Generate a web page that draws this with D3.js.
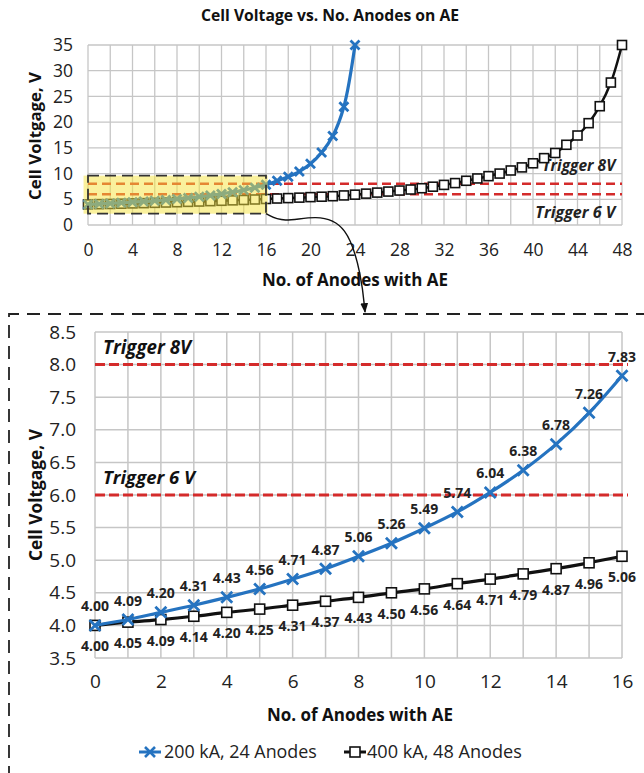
<!DOCTYPE html>
<html><head><meta charset="utf-8">
<script src="https://cdn.jsdelivr.net/npm/d3@7"></script>
<style>
html,body{margin:0;padding:0;background:#fff;}
svg{display:block;font-family:"Open Sans","Noto Sans",sans-serif;}
</style></head>
<body><svg id="c" width="644" height="773"></svg>
<script>
// ---------- data ----------
const anodesTop = d3.range(0, 49);            // 0..48
const anodesBottom = d3.range(0, 17);         // 0..16
const series200kA = [4.00,4.09,4.20,4.31,4.43,4.56,4.71,4.87,5.06,5.26,5.49,5.74,6.04,6.38,6.78,7.26,7.83,
                     8.6,9.4,10.4,11.9,14.1,17.3,23.0,35.0];
const series400kA = [4.00,4.05,4.09,4.14,4.20,4.25,4.31,4.37,4.43,4.50,4.56,4.64,4.71,4.79,4.87,4.96,5.06,
                     5.15,5.23,5.32,5.42,5.5,5.6,5.75,5.9,6.1,6.3,6.5,6.7,6.9,7.15,7.45,7.8,8.15,8.6,9.05,
                     9.5,10.0,10.6,11.2,12.0,13.0,14.0,15.6,17.4,19.8,23.1,27.7,35.0];
const triggers = [8, 6];
const triggerLabels = ["Trigger 8V", "Trigger 6 V"];
const topXTicks = d3.range(0, 49, 4);
const topYTicks = d3.range(0, 36, 5);
const botXTicks = d3.range(0, 17, 2);
const botYTicks = d3.range(3.5, 8.51, 0.5);
const seriesNames = ["200 kA, 24 Anodes", "400 kA, 48 Anodes"];
const titleTop = "Cell Voltage vs. No. Anodes on AE";
const xTitle = "No. of Anodes with AE";
const yTitle = "Cell Voltgage, V";

const BLUE = "#2573c0", RED = "#d42b2b", GRID = "#c6c6c6";
const svg = d3.select("#c");

const d200 = series200kA.map((v,i)=>({x:i,y:v}));
const d400 = series400kA.map((v,i)=>({x:i,y:v}));

function crossPath(s){ return `M${-s},${-s}L${s},${s}M${-s},${s}L${s},${-s}`; }
// scale a text's font so that it spans the wanted width
function fit(sel, w){
  const n = sel.node(); const fs = parseFloat(sel.attr("font-size"));
  const len = n.getComputedTextLength();
  if (len > 0) sel.attr("font-size", (fs * w / len).toFixed(2));
  return sel;
}

// ================= TOP CHART =================
const xT = d3.scaleLinear([0,48],[88,622]);
const yT = d3.scaleLinear([0,35],[225,45]);
const gT = svg.append("g");

// grid
gT.append("g").selectAll("line").data(d3.range(0,49,2)).join("line")
  .attr("x1",d=>xT(d)).attr("x2",d=>xT(d)).attr("y1",yT(0)).attr("y2",yT(35))
  .attr("stroke",GRID).attr("stroke-width",1.3);
gT.append("g").selectAll("line").data(topYTicks).join("line")
  .attr("y1",d=>yT(d)).attr("y2",d=>yT(d)).attr("x1",xT(0)).attr("x2",xT(48))
  .attr("stroke",GRID).attr("stroke-width",1.3);

// axes
const axT = gT.append("g").attr("transform",`translate(0,${yT(0)})`)
  .call(d3.axisBottom(xT).tickValues(topXTicks).tickSize(0).tickPadding(19));
axT.select(".domain").remove();
axT.selectAll("text").attr("font-size",17.5).attr("fill","#222").attr("font-family","Open Sans");
const ayT = gT.append("g").attr("transform",`translate(${xT(0)},0)`)
  .call(d3.axisLeft(yT).tickValues(topYTicks).tickSize(0).tickPadding(15));
ayT.select(".domain").remove();
ayT.selectAll("text").attr("font-size",17.5).attr("fill","#222").attr("font-family","Open Sans");

// triggers
gT.append("g").selectAll("line").data(triggers).join("line")
  .attr("x1",xT(0)).attr("x2",xT(48)).attr("y1",d=>yT(d)).attr("y2",d=>yT(d))
  .attr("stroke",RED).attr("stroke-width",2.5).attr("stroke-dasharray","9,5");
fit(gT.append("text").attr("x",xT(47.4)).attr("y",yT(8)-13).attr("text-anchor","end")
  .attr("font-size",15).attr("font-weight","bold").attr("font-style","italic").attr("fill","#222")
  .text(triggerLabels[0]), 73);
fit(gT.append("text").attr("x",xT(47.4)).attr("y",yT(6)+24).attr("text-anchor","end")
  .attr("font-size",15).attr("font-weight","bold").attr("font-style","italic").attr("fill","#222")
  .text(triggerLabels[1]), 80);

// series
const lineT = d3.line().x(d=>xT(d.x)).y(d=>yT(d.y)).curve(d3.curveCatmullRom);
gT.append("path").datum(d400).attr("d",lineT).attr("fill","none").attr("stroke","#111").attr("stroke-width",2.5);
gT.append("g").selectAll("rect").data(d400).join("rect")
  .attr("x",d=>xT(d.x)-4.5).attr("y",d=>yT(d.y)-4.5).attr("width",9).attr("height",9)
  .attr("fill","#fff").attr("stroke","#111").attr("stroke-width",1.6);
gT.append("path").datum(d200).attr("d",lineT).attr("fill","none").attr("stroke",BLUE).attr("stroke-width",3.2);
gT.append("g").selectAll("path").data(d200).join("path")
  .attr("transform",d=>`translate(${xT(d.x)},${yT(d.y)})`).attr("d",crossPath(4.5))
  .attr("stroke",BLUE).attr("stroke-width",2.8).attr("fill","none");

// highlight box (0..16, region zoomed below)
gT.append("rect").attr("x",xT(-0.4)).attr("y",yT(9.6)).attr("width",xT(16.15)-xT(-0.4)).attr("height",yT(2.2)-yT(9.6))
  .attr("fill","#f5e43c").attr("opacity",0.5);
gT.append("rect").attr("x",xT(0)).attr("y",yT(9.6)).attr("width",xT(16)-xT(0)).attr("height",yT(2.2)-yT(9.6))
  .attr("fill","none").attr("stroke","#333").attr("stroke-width",1.8).attr("stroke-dasharray","11,6");

// titles
fit(svg.append("text").attr("x",330).attr("y",21).attr("text-anchor","middle")
  .attr("font-size",13).attr("font-weight","bold").attr("fill","#111").text(titleTop), 258);
fit(svg.append("text").attr("x",355).attr("y",286).attr("text-anchor","middle")
  .attr("font-size",16).attr("font-weight","bold").attr("fill","#111").text(xTitle), 186);
fit(svg.append("text").attr("transform","translate(41,136) rotate(-90)").attr("text-anchor","middle")
  .attr("font-size",15).attr("font-weight","bold").attr("fill","#111").text(yTitle), 128);

// ================= BOTTOM CHART =================
const xB = d3.scaleLinear([0,16],[95,622]);
const yB = d3.scaleLinear([3.5,8.5],[658,332]);
const gB = svg.append("g");

// dashed frame
gB.append("path").attr("d",`M9,800V314H660`).attr("fill","none").attr("stroke","#222")
  .attr("stroke-width",1.8).attr("stroke-dasharray","13,8");

// connector arrow from top box
svg.append("defs").append("marker").attr("id","ah").attr("viewBox","0 0 10 10").attr("refX",9).attr("refY",5)
  .attr("markerWidth",7).attr("markerHeight",7).attr("orient","auto")
  .append("path").attr("d","M0,1L10,5L0,9z").attr("fill","#111");
const arrowPts = [[xT(16),yT(2.2)],[xT(17.5),yT(0.4)],[xT(20.5),yT(2.0)],[xT(23.3),yT(0.2)],[xT(24.6),yT(-10)],[xT(24.9),312]];
svg.append("path").attr("d",d3.line().curve(d3.curveBasis)(arrowPts)).attr("fill","none")
  .attr("stroke","#111").attr("stroke-width",1.4).attr("marker-end","url(#ah)");

// grid
gB.append("g").selectAll("line").data(anodesBottom).join("line")
  .attr("x1",d=>xB(d)).attr("x2",d=>xB(d)).attr("y1",yB(3.5)).attr("y2",yB(8.5))
  .attr("stroke",GRID).attr("stroke-width",1.5);
gB.append("g").selectAll("line").data(botYTicks).join("line")
  .attr("y1",d=>yB(d)).attr("y2",d=>yB(d)).attr("x1",xB(0)).attr("x2",xB(16))
  .attr("stroke",GRID).attr("stroke-width",1.5);

const axB = gB.append("g").attr("transform",`translate(0,${yB(3.5)})`)
  .call(d3.axisBottom(xB).tickValues(botXTicks).tickSize(0).tickPadding(17));
axB.select(".domain").remove();
axB.selectAll("text").attr("font-size",19).attr("fill","#222").attr("font-family","Open Sans");
const ayB = gB.append("g").attr("transform",`translate(${xB(0)},0)`)
  .call(d3.axisLeft(yB).tickValues(botYTicks).tickSize(0).tickPadding(19).tickFormat(d3.format(".1f")));
ayB.select(".domain").remove();
ayB.selectAll("text").attr("font-size",19).attr("fill","#222").attr("font-family","Open Sans");

// triggers
gB.append("g").selectAll("line").data(triggers).join("line")
  .attr("x1",xB(0)).attr("x2",xB(16)+6).attr("y1",d=>yB(d)).attr("y2",d=>yB(d))
  .attr("stroke",RED).attr("stroke-width",3).attr("stroke-dasharray","10,4");
gB.append("g").selectAll("text").data(triggers).join("text")
  .attr("x",xB(0)+8).attr("y",d=>yB(d)-11).attr("font-size",16).attr("font-weight","bold")
  .attr("font-style","italic").attr("fill","#111").text((d,i)=>triggerLabels[i])
  .each(function(d,i){ fit(d3.select(this), i===0 ? 88 : 92); });

const b200 = d200.filter(d=>d.x<=16), b400 = d400.filter(d=>d.x<=16);
const lineB = d3.line().x(d=>xB(d.x)).y(d=>yB(d.y)).curve(d3.curveCatmullRom);
gB.append("path").datum(b400).attr("d",lineB).attr("fill","none").attr("stroke","#111").attr("stroke-width",3.2);
gB.append("g").selectAll("rect").data(b400).join("rect")
  .attr("x",d=>xB(d.x)-5).attr("y",d=>yB(d.y)-5).attr("width",10).attr("height",10)
  .attr("fill","#fff").attr("stroke","#111").attr("stroke-width",1.6);
gB.append("path").datum(b200).attr("d",lineB).attr("fill","none").attr("stroke",BLUE).attr("stroke-width",3.2);
gB.append("g").selectAll("path").data(b200).join("path")
  .attr("transform",d=>`translate(${xB(d.x)},${yB(d.y)})`).attr("d",crossPath(5.5))
  .attr("stroke",BLUE).attr("stroke-width",2.8).attr("fill","none");

const f2 = d3.format(".2f");
gB.append("g").selectAll("text").data(b200).join("text")
  .attr("x",d=>xB(d.x)).attr("y",d=>yB(d.y)-14).attr("text-anchor","middle")
  .attr("font-size",14).attr("font-weight","bold").attr("fill","#222").text(d=>f2(d.y));
gB.append("g").selectAll("text").data(b400).join("text")
  .attr("x",d=>xB(d.x)).attr("y",d=>yB(d.y)+26).attr("text-anchor","middle")
  .attr("font-size",14).attr("font-weight","bold").attr("fill","#222").text(d=>f2(d.y));

fit(svg.append("text").attr("x",360).attr("y",721).attr("text-anchor","middle")
  .attr("font-size",16).attr("font-weight","bold").attr("fill","#111").text(xTitle), 186);
fit(svg.append("text").attr("transform","translate(42,495) rotate(-90)").attr("text-anchor","middle")
  .attr("font-size",16).attr("font-weight","bold").attr("fill","#111").text(yTitle), 132);

// legend
const lg = svg.append("g").attr("transform","translate(0,752)");
lg.append("line").attr("x1",139).attr("x2",161).attr("stroke",BLUE).attr("stroke-width",3);
lg.append("path").attr("transform","translate(150,0)").attr("d",crossPath(5)).attr("stroke",BLUE).attr("stroke-width",2.6);
fit(lg.append("text").attr("x",164).attr("y",6).attr("font-size",15).attr("fill","#222").text(seriesNames[0]), 153);
lg.append("line").attr("x1",344).attr("x2",366).attr("stroke","#111").attr("stroke-width",3);
lg.append("rect").attr("x",350).attr("y",-5).attr("width",10).attr("height",10).attr("fill","#fff").attr("stroke","#111").attr("stroke-width",1.6);
fit(lg.append("text").attr("x",367).attr("y",6).attr("font-size",15).attr("fill","#222").text(seriesNames[1]), 155);
</script></body></html>
